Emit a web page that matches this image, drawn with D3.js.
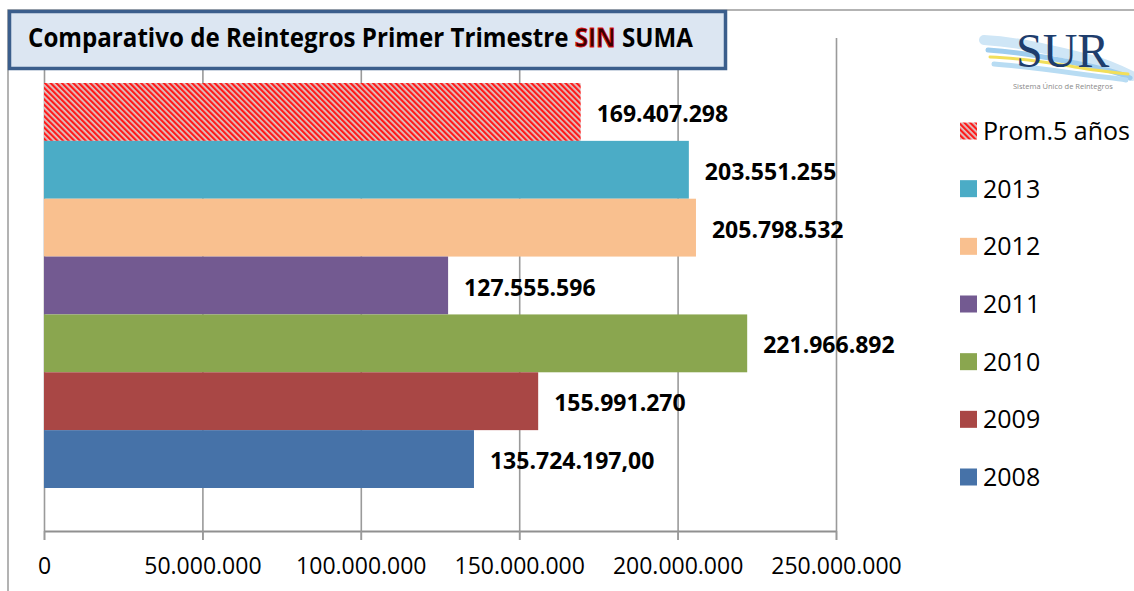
<!DOCTYPE html>
<html>
<head>
<meta charset="utf-8">
<script src="https://cdn.jsdelivr.net/npm/d3@7"></script>
<style>
  body { margin: 0; background: #fff; }
  svg { display: block; font-family: 'Open Sans', 'DejaVu Sans', sans-serif; }
</style>
</head>
<body>
<svg width="1134" height="591"></svg>
<script>
// data
const series = ['Prom.5 años', '2013', '2012', '2011', '2010', '2009', '2008']
const values = [169407298, 203551255, 205798532, 127555596, 221966892, 155991270, 135724197]
const valueLabels = ['169.407.298', '203.551.255', '205.798.532', '127.555.596', '221.966.892', '155.991.270', '135.724.197,00']
const colors = ['url(#hatch)', '#4bacc6', '#f9c08f', '#735a91', '#8aa64f', '#a94745', '#4672a8']
const xTicks = [0, 50000000, 100000000, 150000000, 200000000, 250000000]

const data = series.map((s, i) => ({ name: s, value: values[i], label: valueLabels[i], color: colors[i] }))

const svg = d3.select('svg')
const width = +svg.attr('width')
const height = +svg.attr('height')

const esLocale = d3.formatLocale({ decimal: ',', thousands: '.', grouping: [3], currency: ['', ''] })
const fmt = esLocale.format(',')

// hatch pattern for the average bar
const defs = svg.append('defs')
const pat = defs.append('pattern')
  .attr('id', 'hatch')
  .attr('patternUnits', 'userSpaceOnUse')
  .attr('width', 4).attr('height', 4)
  .attr('patternTransform', 'rotate(-45)')
pat.append('rect').attr('width', 4).attr('height', 4).attr('fill', '#dcc6c6')
pat.append('rect').attr('width', 2.2).attr('height', 4).attr('fill', '#ff1a1a')

// outer frame
svg.append('path')
  .attr('d', `M8,${height} V10 H${width}`)
  .attr('fill', 'none')
  .attr('stroke', '#9a9a9a')
  .attr('stroke-width', 1.5)

const xScale = d3.scaleLinear()
  .domain([0, 250000000])
  .range([44, 836])

const yScale = d3.scaleBand()
  .domain(series)
  .range([83, 488])
  .paddingInner(0)

const gridTop = 38
const axisY = 531

// vertical gridlines
const gridG = svg.append('g')
  .attr('transform', `translate(0, ${axisY + 9})`)
  .call(d3.axisBottom(xScale).tickValues(xTicks).tickSize(-(axisY + 9 - gridTop)).tickFormat(''))
gridG.select('.domain').remove()
gridG.selectAll('line').attr('stroke', '#9a9a9a').attr('stroke-width', 1.6)

// x axis
const xAxisG = svg.append('g')
  .attr('transform', `translate(0, ${axisY})`)
  .call(d3.axisBottom(xScale).tickValues(xTicks).tickSize(9).tickSizeOuter(0).tickPadding(18).tickFormat(fmt))
xAxisG.select('.domain').attr('stroke', '#909090').attr('stroke-width', 2.2)
xAxisG.selectAll('line').attr('stroke', '#9a9a9a').attr('stroke-width', 1.6)
xAxisG.selectAll('text')
  .attr('fill', '#000')
  .style('font-size', '23px')
  .style('font-family', "'Open Sans', sans-serif")

// bars
svg.append('g').selectAll('rect').data(data)
  .enter().append('rect')
  .attr('x', xScale(0))
  .attr('y', d => yScale(d.name))
  .attr('width', d => xScale(d.value) - xScale(0))
  .attr('height', yScale.bandwidth())
  .attr('fill', d => d.color)

// value labels
svg.append('g').selectAll('text').data(data)
  .enter().append('text')
  .attr('x', d => xScale(d.value) + 16)
  .attr('y', d => yScale(d.name) + yScale.bandwidth() / 2 + 1)
  .attr('dominant-baseline', 'central')
  .style('font-size', '23px')
  .style('font-weight', 'bold')
  .attr('fill', '#000')
  .text(d => d.label)

// legend
const legendY = d3.scalePoint().domain(series).range([131, 477])
const legend = svg.append('g').selectAll('g').data(data)
  .enter().append('g')
  .attr('transform', d => `translate(960, ${legendY(d.name)})`)
legend.append('rect')
  .attr('x', 0).attr('y', -8.5)
  .attr('width', 17).attr('height', 17)
  .attr('fill', d => d.color)
legend.append('text')
  .attr('x', 23).attr('y', 9)
  .style('font-size', '25px')
  .attr('fill', '#000')
  .text(d => d.name)

// title box
svg.append('rect')
  .attr('x', 9.5).attr('y', 11.5)
  .attr('width', 716).attr('height', 57)
  .attr('fill', '#dce6f2')
  .attr('stroke', '#3b5e8c')
  .attr('stroke-width', 3.5)
// title squeezed horizontally like the condensed original font
const titleG = svg.append('g')
const title = titleG.append('text')
  .attr('x', 0).attr('y', 0)
  .style('font-size', '26px')
  .style('font-weight', 'bold')
  .attr('fill', '#000')
title.append('tspan').text('Comparativo de Reintegros Primer Trimestre ')
title.append('tspan').text('SIN').attr('fill', '#3a0000').attr('stroke', '#e01010').attr('stroke-width', 0.8)
title.append('tspan').text(' SUMA')
const natural = title.node().getComputedTextLength()
titleG.attr('transform', `translate(28, 47) scale(${665 / natural}, 1)`)

// logo
const logo = svg.append('g')
const swooshes = [
  { d: 'M984,40 C1020,42 1050,50 1085,58 C1105,63 1120,70 1132,76', c: '#cfe6f6', w: 10 },
  { d: 'M988,50 C1020,52 1050,58 1080,64 C1100,68 1118,72 1130,78', c: '#9fcdee', w: 5 },
  { d: 'M990,57 C1020,58 1045,62 1070,66 C1090,70 1110,72 1128,74', c: '#f2df5a', w: 3 },
  { d: 'M994,64 C1020,66 1050,70 1080,74 C1100,77 1115,78 1126,80', c: '#b8dcf3', w: 5 }
]
logo.selectAll('path').data(swooshes)
  .enter().append('path')
  .attr('d', d => d.d)
  .attr('fill', 'none')
  .attr('stroke', d => d.c)
  .attr('stroke-width', d => d.w)
  .attr('stroke-linecap', 'round')
logo.append('text')
  .attr('x', 1016).attr('y', 67)
  .style('font-family', "'Liberation Serif', 'DejaVu Serif', serif")
  .style('font-size', '48px')
  .attr('fill', '#1e3d6d')
  .text('SUR')
logo.append('text')
  .attr('x', 1013).attr('y', 89)
  .style('font-size', '7.5px')
  .attr('fill', '#8a8a8a')
  .text('Sistema Único de Reintegros')
</script>
</body>
</html>
